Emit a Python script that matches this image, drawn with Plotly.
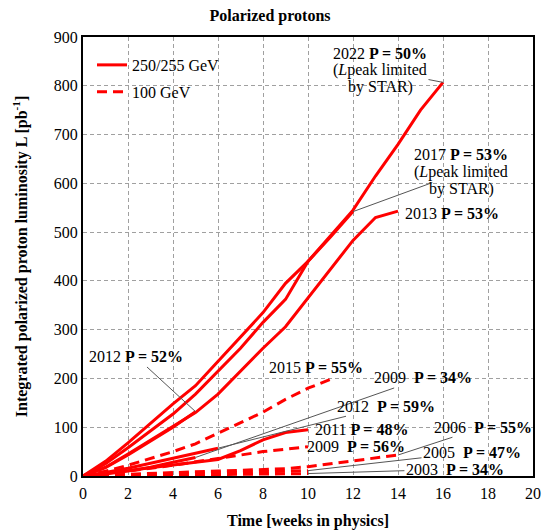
import plotly.graph_objects as go

# ---------------- data ----------------
weeks_2022 = [0, 1, 2, 3, 4, 5, 6, 7, 8, 9, 10, 11, 12, 13, 14, 15, 16]
lum_2022 = [0, 25, 58, 92, 127, 168, 215, 262, 315, 362, 440, 492, 545, 615, 680, 750, 807]

weeks_2017 = [0, 1, 2, 3, 4, 5, 6, 7, 8, 9, 10, 11, 12]
lum_2017 = [0, 30, 68, 108, 148, 185, 235, 285, 335, 395, 440, 490, 542]

weeks_2013 = [0, 1, 2, 3, 4, 5, 6, 7, 8, 9, 10, 11, 12, 13, 14]
lum_2013 = [0, 18, 45, 73, 101, 130, 168, 215, 262, 306, 365, 425, 483, 530, 543]

weeks_2012_510 = [0, 1, 2, 3, 4, 5]
lum_2012_510 = [0, 17, 43, 71, 100, 132]

weeks_2011 = [0, 1, 2, 3, 4, 5, 6, 7, 8, 9, 10]
lum_2011 = [0, 5, 11, 17, 23, 29, 34, 52, 74, 89, 95]

weeks_2012_200 = [0, 1, 2, 3, 4, 5, 6]
lum_2012_200 = [0, 7, 16, 26, 36, 46, 57]

weeks_2009_500 = [0, 1, 2, 3, 4, 5]
lum_2009_500 = [0, 4, 10, 18, 28, 38]

weeks_2015 = [0, 1, 2, 3, 4, 5, 6, 7, 8, 9, 10, 11]
lum_2015 = [0, 10, 22, 36, 50, 66, 88, 110, 131, 157, 180, 198]

weeks_2009_200 = [0, 2, 4, 6, 8, 10]
lum_2009_200 = [0, 10, 22, 36, 50, 60]

weeks_2006 = [0, 2, 4, 6, 8, 9, 10, 11, 12, 13, 14]
lum_2006 = [0, 4, 7, 10, 13, 15, 19, 25, 32, 38, 43]

weeks_2005 = [0, 2, 4, 6, 8, 10]
lum_2005 = [0, 2, 4, 6, 8, 11]

weeks_2003 = [0, 2, 4, 6, 8, 10]
lum_2003 = [0, 1, 2, 3, 4, 5]

x_ticks = [0, 2, 4, 6, 8, 10, 12, 14, 16, 18, 20]
y_ticks = [0, 100, 200, 300, 400, 500, 600, 700, 800, 900]

legend_names = ["250/255 GeV", "100 GeV"]

# ---------------- figure ----------------
FONT = "Liberation Serif, Times New Roman, Times, serif"
RED = "#ff0000"
DASH = "10px,6px"

solid_series = [
    (weeks_2022, lum_2022), (weeks_2017, lum_2017), (weeks_2013, lum_2013),
    (weeks_2012_510, lum_2012_510), (weeks_2011, lum_2011),
    (weeks_2012_200, lum_2012_200), (weeks_2009_500, lum_2009_500),
]
dashed_series = [
    (weeks_2015, lum_2015), (weeks_2009_200, lum_2009_200), (weeks_2006, lum_2006),
    (weeks_2005, lum_2005), (weeks_2003, lum_2003),
]

fig = go.Figure()
for xs, ys in dashed_series:
    fig.add_trace(go.Scatter(x=xs, y=ys, mode="lines", showlegend=False,
                             line=dict(color=RED, width=3, dash=DASH)))
for xs, ys in solid_series:
    fig.add_trace(go.Scatter(x=xs, y=ys, mode="lines", showlegend=False,
                             line=dict(color=RED, width=3)))

# legend-only traces
fig.add_trace(go.Scatter(x=[None], y=[None], mode="lines", name=legend_names[0],
                         legendgroup="a", line=dict(color=RED, width=3)))
fig.add_trace(go.Scatter(x=[None], y=[None], mode="lines", name=legend_names[1],
                         legendgroup="b", line=dict(color=RED, width=3, dash=DASH)))

NB = "\u00a0"
ann_font = dict(family=FONT, size=16, color="black")
LEAD = "#555555"


def label(text, tx, ty, px=None, py=None, xanchor="center"):
    d = dict(text=text, font=ann_font, xref="x", yref="y", xanchor=xanchor,
             yanchor="middle")
    if px is None:
        d.update(x=tx, y=ty, showarrow=False)
    else:
        d.update(x=px, y=py, ax=tx, ay=ty, axref="x", ayref="y", showarrow=True,
                 arrowhead=0, arrowwidth=1, arrowcolor=LEAD, standoff=0)
    fig.add_annotation(**d)


# 2022
label("2022 <b>P = 50%</b>", 13.2, 867)
label("(<i>L</i>peak limited", 13.2, 832, weeks_2022[-1], lum_2022[-1])
label("by STAR)", 13.2, 797)
# 2017
label("2017 <b>P = 53%</b>", 16.8, 660)
label("(<i>L</i>peak limited", 16.8, 623, weeks_2017[-1], lum_2017[-1])
label("by STAR)", 16.8, 588)
# 2013
label("2013 <b>P = 53%</b>", 16.4, 539)
# 2012 510
label("2012 <b>P = 52%</b>", 2.36, 244, weeks_2012_510[-1], lum_2012_510[-1])
# 2015
label("2015 <b>P = 55%</b>", 10.36, 223)
# 2009 500
label("2009" + NB + NB + "<b>P = 34%</b>", 15.1, 201, weeks_2009_500[-1], lum_2009_500[-1])
# 2012 200
label("2012" + NB + NB + "<b>P = 59%</b>", 13.47, 143, weeks_2012_200[-1], lum_2012_200[-1])
# 2011
label("2011 <b>P = 48%</b>", 12.36, 96)
# 2009 200
label("2009" + NB + NB + "<b>P = 56%</b>", 12.13, 61)
# 2006
label("2006" + NB + NB + "<b>P = 55%</b>", 17.78, 100, weeks_2006[-1], lum_2006[-1])
# 2005
label("2005" + NB + NB + "<b>P = 47%</b>", 17.29, 49, weeks_2005[-1], lum_2005[-1])
# 2003
label("2003" + NB + NB + "<b>P = 34%</b>", 16.53, 14, weeks_2003[-1], lum_2003[-1])

axis_common = dict(
    showgrid=True, gridcolor="#a0a0a0", gridwidth=1, griddash="4px,3px",
    showline=True, linecolor="black", linewidth=2, mirror=True,
    ticks="", zeroline=False, automargin=False,
    tickfont=dict(family=FONT, size=16, color="black"),
)

W, H = 544, 531
fig.update_layout(
    width=W, height=H,
    margin=dict(l=83, r=11, t=37, b=55),
    paper_bgcolor="white", plot_bgcolor="white",
    font=dict(family=FONT, size=16, color="black"),
    title=dict(text="<b>Polarized protons</b>", x=270 / W, xref="container",
               y=1 - 15 / H, yref="container", xanchor="center", yanchor="middle",
               font=dict(family=FONT, size=16, color="black")),
    xaxis=dict(range=[0, 20], tickvals=x_ticks, ticklabelstandoff=2,
               title=dict(text="<b>Time [weeks in physics]</b>", standoff=14,
                          font=dict(family=FONT, size=16, color="black")),
               **axis_common),
    yaxis=dict(range=[0, 900], tickvals=y_ticks, ticklabelstandoff=0,
               title=dict(text="<b>Integrated polarized proton luminosity L [pb<sup>-1</sup>]</b>",
                          standoff=22, font=dict(family=FONT, size=16, color="black")),
               **axis_common),
    legend=dict(x=0.02, y=0.975, xanchor="left", yanchor="top", tracegroupgap=3,
                bgcolor="rgba(0,0,0,0)", font=dict(family=FONT, size=16, color="black")),
    showlegend=True,
)

fig.write_html(
    "out.html",
    config={"displayModeBar": False},
    post_script="document.body.style.margin='0';document.body.style.overflow='hidden';",
)
